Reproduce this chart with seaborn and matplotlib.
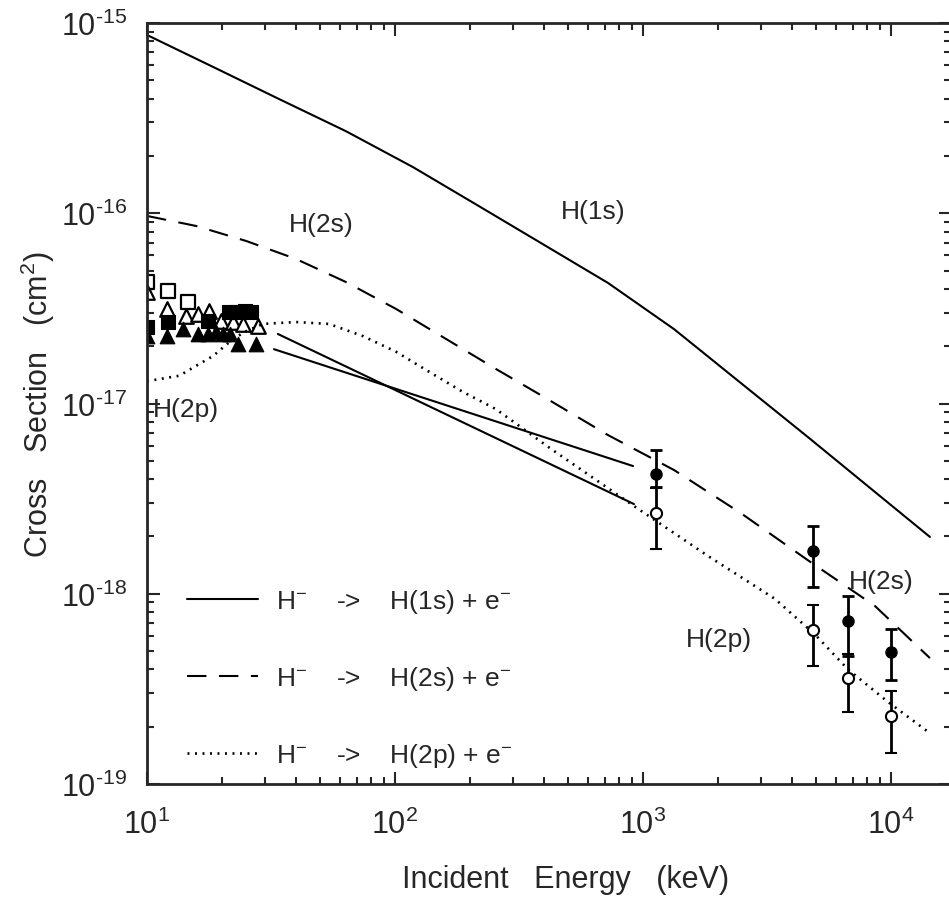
import numpy as np
import pandas as pd
import matplotlib
matplotlib.use("Agg")
import matplotlib.pyplot as plt
import seaborn as sns
from matplotlib.lines import Line2D
from matplotlib.ticker import FixedLocator, LogLocator, FuncFormatter

# theory curves (energy in keV, cross section in cm^2)
e_1s = [10, 18.5, 34.0, 63.4, 118, 218, 406, 723, 1334, 2483, 4624, 8610, 14350]
s_1s = [8.65e-16, 5.87e-16, 3.99e-16, 2.70e-16, 1.75e-16, 1.09e-16, 6.73e-17,
        4.30e-17, 2.46e-17, 1.28e-17, 6.66e-18, 3.43e-18, 1.99e-18]

e_2s = [10, 15.8, 25.1, 39.9, 63.4, 101, 161, 255, 395, 723, 1334, 2483,
        4624, 8610, 14350]
s_2s = [9.68e-17, 8.57e-17, 7.15e-17, 5.75e-17, 4.35e-17, 3.14e-17, 2.18e-17,
        1.52e-17, 1.09e-17, 6.82e-18, 4.47e-18, 2.65e-18, 1.50e-18, 8.63e-19,
        4.59e-19]

e_2p = [10, 13.5, 18.5, 22.2, 25.1, 29.4, 39.9, 54.2, 74.3, 101, 137, 188,
        255, 426, 920, 1828, 3404, 4940, 6714, 9727, 14350]
s_2p = [1.31e-17, 1.40e-17, 1.78e-17, 2.18e-17, 2.40e-17, 2.62e-17, 2.68e-17,
        2.62e-17, 2.26e-17, 1.87e-17, 1.47e-17, 1.15e-17, 9.35e-18, 5.77e-18,
        2.89e-18, 1.58e-18, 9.4e-19, 6.1e-19, 4.0e-19, 2.7e-19, 1.85e-19]

# two other (straight) solid calculations
e_a = [33.7, 920]
s_a = [2.32e-17, 2.96e-18]
e_b = [32.5, 912]
s_b = [1.93e-17, 4.69e-18]

# low energy measurements
osq_e = [10, 12.2, 14.6]
osq_s = [4.36e-17, 3.90e-17, 3.42e-17]
otri_e = [10, 12.0, 14.4, 16.1, 17.8, 19.8, 22.2, 24.4, 28.0]
otri_s = [3.85e-17, 3.14e-17, 2.88e-17, 2.95e-17, 3.06e-17, 2.71e-17,
          2.68e-17, 2.62e-17, 2.56e-17]
fsq_e = [10, 12.2, 17.6, 21.4, 23.0, 24.8, 26.3]
fsq_s = [2.52e-17, 2.68e-17, 2.71e-17, 3.03e-17, 3.03e-17, 3.06e-17, 3.03e-17]
ftri_e = [10, 12.0, 14.0, 16.1, 17.6, 19.0, 20.3, 21.7, 23.2, 27.5]
ftri_s = [2.26e-17, 2.26e-17, 2.46e-17, 2.32e-17, 2.32e-17, 2.38e-17,
          2.32e-17, 2.32e-17, 2.06e-17, 2.06e-17]

# high energy measurements with error bars
hi_e = [1127, 4840, 6710, 10000]
f_s = [4.26e-18, 1.68e-18, 7.19e-19, 4.94e-19]
f_hi = [5.70e-18, 2.27e-18, 9.73e-19, 6.53e-19]
f_lo = [3.64e-18, 1.08e-18, 4.71e-19, 3.52e-19]
o_s = [2.65e-18, 6.46e-19, 3.61e-19, 2.28e-19]
o_hi = [3.60e-18, 8.73e-19, 4.80e-19, 3.08e-19]
o_lo = [1.72e-18, 4.17e-19, 2.39e-19, 1.46e-19]

x_ticks = [1e1, 1e2, 1e3, 1e4]
y_ticks = [1e-19, 1e-18, 1e-17, 1e-16, 1e-15]

sns.set_style("ticks")
plt.rcParams['font.family'] = ['Liberation Sans', 'DejaVu Sans']
plt.rcParams['mathtext.fontset'] = 'custom'
plt.rcParams['mathtext.rm'] = 'Liberation Sans'
plt.rcParams['mathtext.it'] = 'Liberation Sans'
plt.rcParams['lines.scale_dashes'] = False

fig = plt.figure(figsize=(9.49, 9.03), dpi=100)
ax = fig.add_axes([147 / 949, 118 / 903, 804 / 949, 761 / 903])

lw = 1.5
dash = (0, (14, 9))
dots = (0, (1.4, 4))
sns.lineplot(x=e_1s, y=s_1s, ax=ax, color='k', lw=lw)
sns.lineplot(x=e_2s, y=s_2s, ax=ax, color='k', lw=lw, linestyle=dash)
sns.lineplot(x=e_2p, y=s_2p, ax=ax, color='k', lw=lw + 0.4, linestyle=dots)
sns.lineplot(x=e_a, y=s_a, ax=ax, color='k', lw=lw)
sns.lineplot(x=e_b, y=s_b, ax=ax, color='k', lw=lw)

ms = 100
sns.scatterplot(x=osq_e, y=osq_s, ax=ax, marker='s', s=ms,
                facecolors='none', edgecolors='k', linewidths=1.6)
sns.scatterplot(x=otri_e, y=otri_s, ax=ax, marker='^', s=ms + 10,
                facecolors='white', edgecolors='k', linewidths=1.6)
sns.scatterplot(x=fsq_e, y=fsq_s, ax=ax, marker='s', s=ms, color='k',
                edgecolor='k')
sns.scatterplot(x=ftri_e, y=ftri_s, ax=ax, marker='^', s=ms + 10, color='k',
                edgecolor='k')

f_s_arr = np.array(f_s)
o_s_arr = np.array(o_s)
ax.errorbar(hi_e, f_s, yerr=[f_s_arr - np.array(f_lo), np.array(f_hi) - f_s_arr],
            fmt='o', color='k', mfc='k', ms=8, capsize=4.5, elinewidth=2, capthick=2)
ax.errorbar(hi_e, o_s, yerr=[o_s_arr - np.array(o_lo), np.array(o_hi) - o_s_arr],
            fmt='o', color='k', mfc='white', mew=1.5, ms=8, capsize=4.5,
            elinewidth=2, capthick=2)

ax.set_xscale('log')
ax.set_yscale('log')
ax.set_xlim(10, 10 ** (1 + 804 / 248))
ax.set_ylim(1e-19, 1e-15)
ax.xaxis.set_major_locator(FixedLocator(x_ticks))
ax.yaxis.set_major_locator(FixedLocator(y_ticks))
ax.xaxis.set_minor_locator(LogLocator(base=10, subs=np.arange(2, 10), numticks=20))
ax.yaxis.set_minor_locator(LogLocator(base=10, subs=np.arange(2, 10), numticks=20))
exp_fmt = FuncFormatter(lambda v, _: r'$10^{\text{%d}}$' % round(np.log10(v)))
ax.xaxis.set_major_formatter(exp_fmt)
ax.yaxis.set_major_formatter(exp_fmt)

ax.tick_params(which='both', direction='in', top=True, right=True, width=1.5)
ax.tick_params(which='major', length=9, labelsize=22, pad=14)
ax.tick_params(which='minor', length=5)
ax.tick_params(axis='x', which='major', pad=18)
for sp in ax.spines.values():
    sp.set_linewidth(2)

ax.set_xlabel('Incident   Energy   (keV)', fontsize=22, labelpad=17)
ax.set_ylabel('Cross   Section   (cm$^2$)', fontsize=22, labelpad=3)
ax.xaxis.label.set_x(0.52)

fs = 19
ax.text(628, 1.03e-16, 'H(1s)', fontsize=fs, ha='center', va='center')
ax.text(50.4, 8.77e-17, 'H(2s)', fontsize=fs, ha='center', va='center')
ax.text(9120, 1.17e-18, 'H(2s)', fontsize=fs, ha='center', va='center')
ax.text(14.4, 9.35e-18, 'H(2p)', fontsize=fs, ha='center', va='center')
ax.text(2023, 5.78e-19, 'H(2p)', fontsize=fs, ha='center', va='center')

handles = [Line2D([], [], color='k', lw=lw),
           Line2D([], [], color='k', lw=lw, linestyle=dash),
           Line2D([], [], color='k', lw=lw + 0.4, linestyle=dots)]
labels = ['H$^{-}$    ->    H(1s) + e$^{-}$',
          'H$^{-}$    ->    H(2s) + e$^{-}$',
          'H$^{-}$    ->    H(2p) + e$^{-}$']
ax.legend(handles, labels, loc='lower left', bbox_to_anchor=(0.05, 0.02),
          frameon=False, fontsize=fs, handlelength=2.7, handletextpad=0.65,
          labelspacing=1.85, borderpad=0, borderaxespad=0)

fig.savefig('out.png', dpi=100)
